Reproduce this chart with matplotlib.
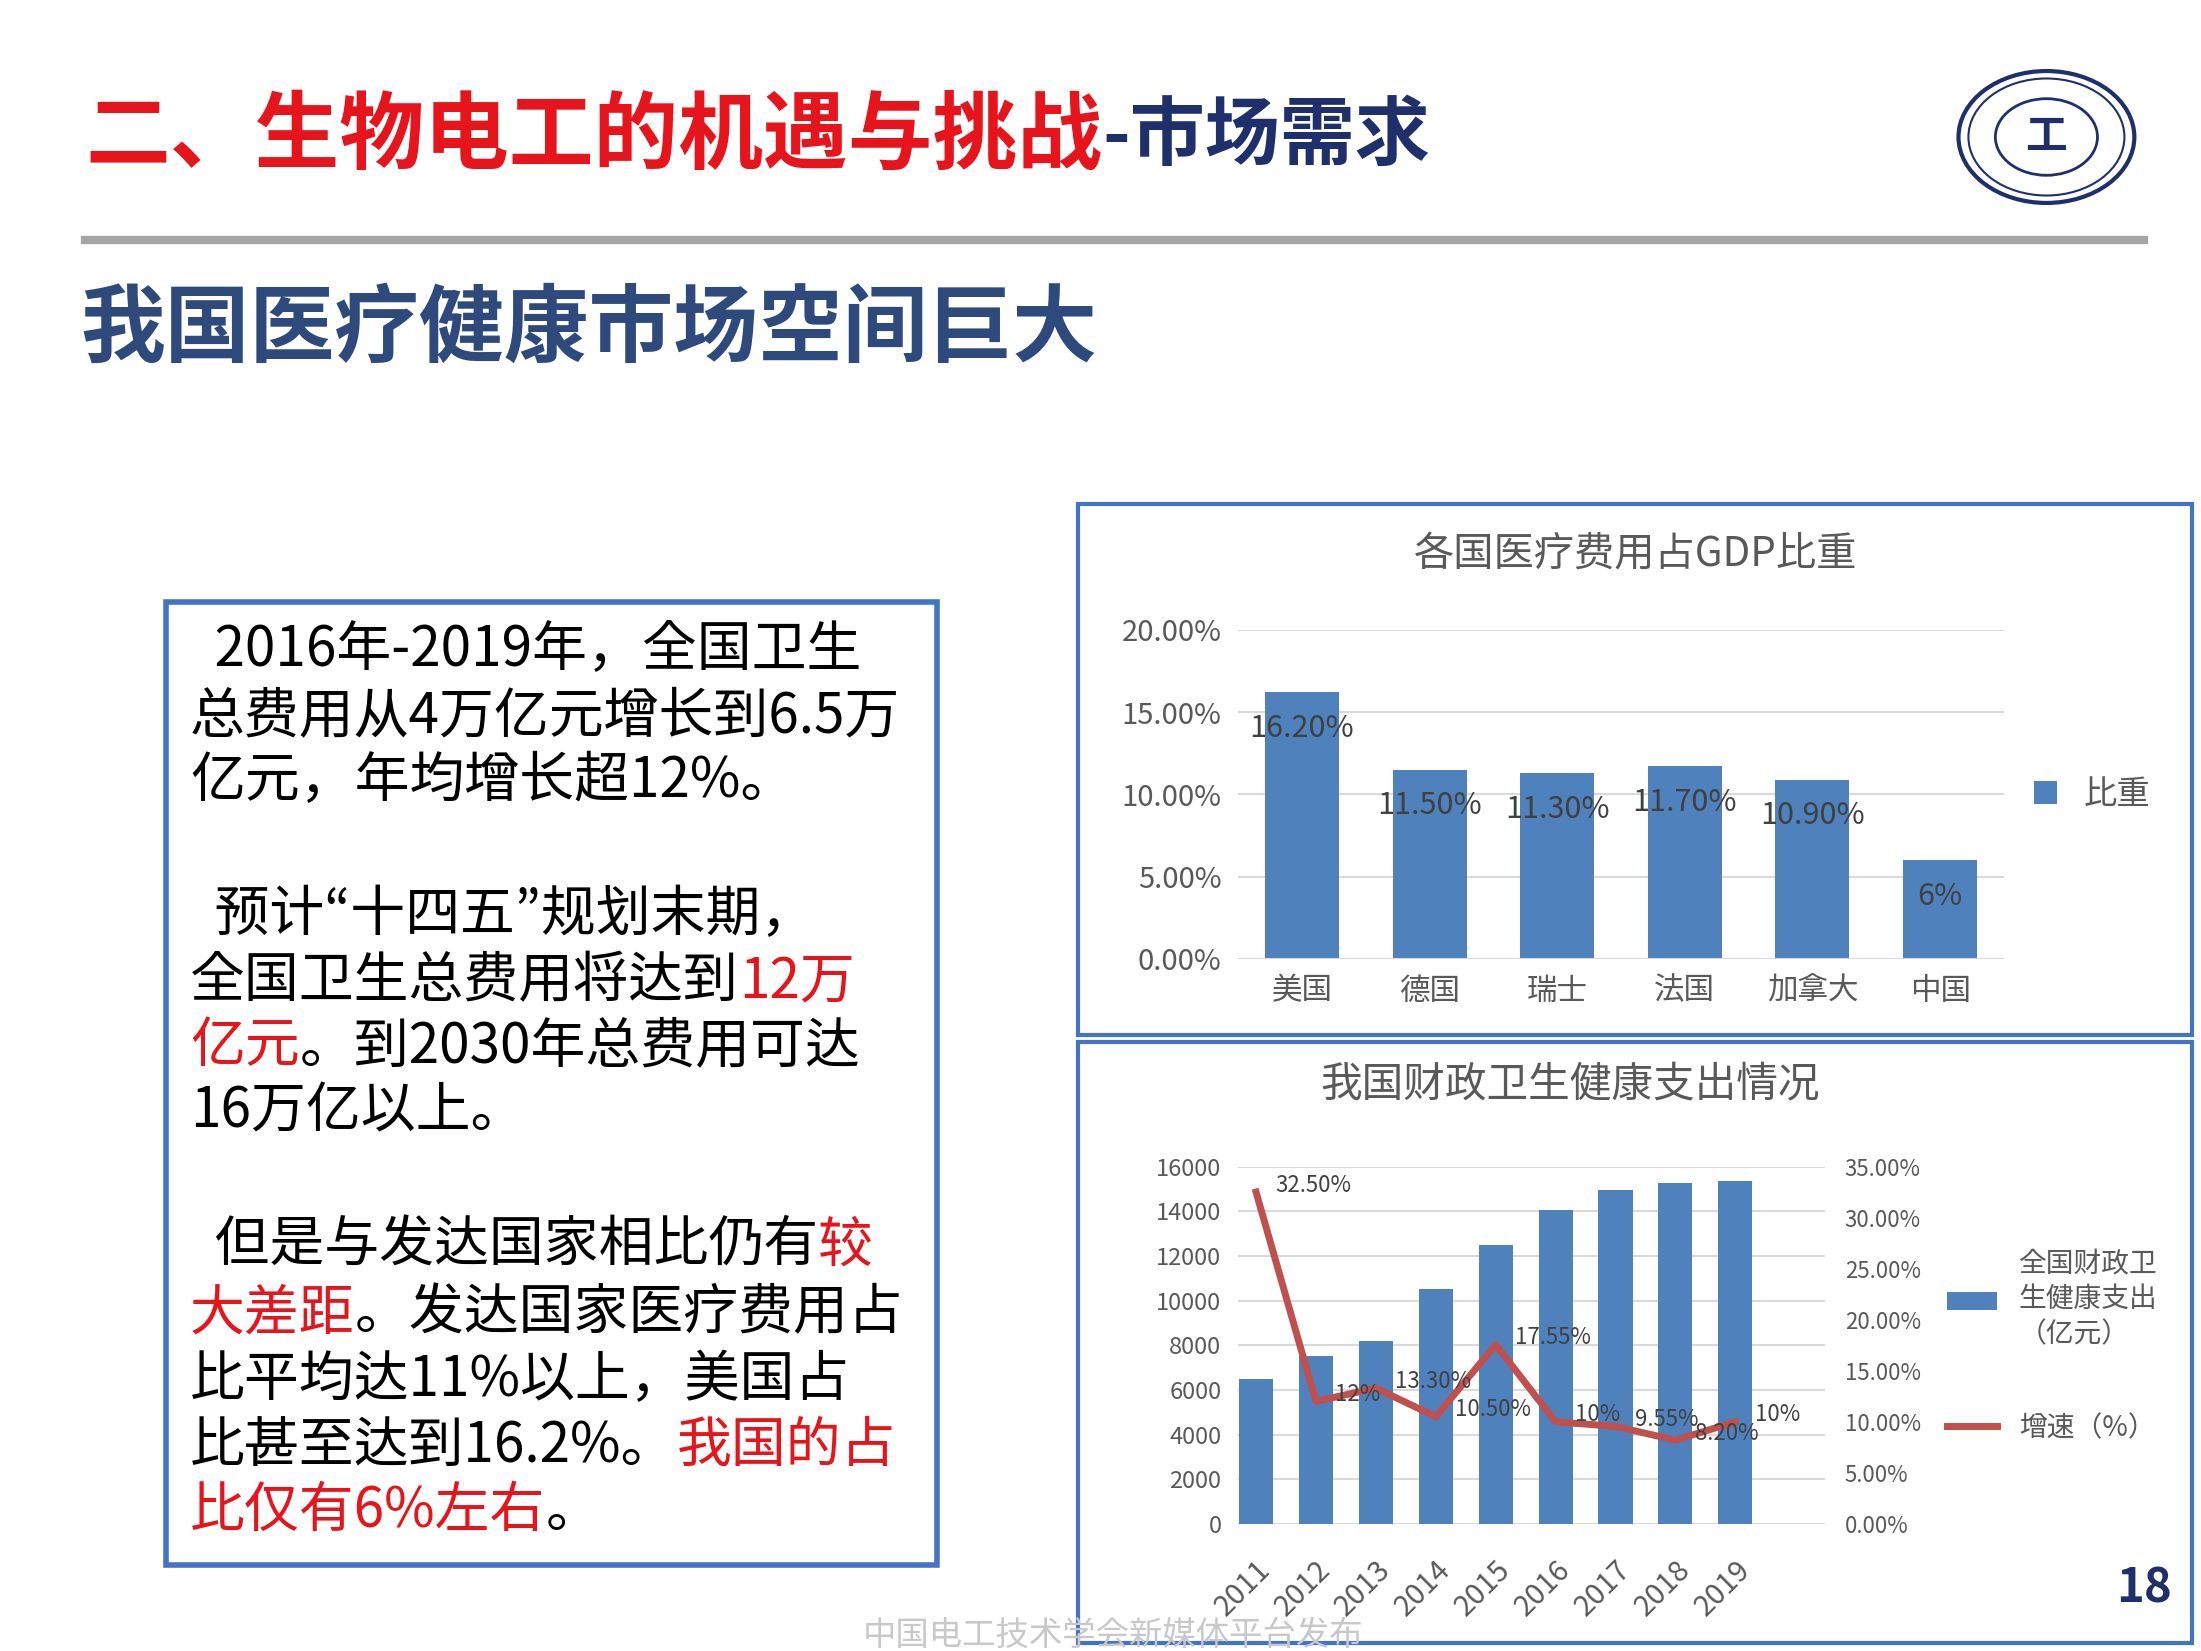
import numpy as np
import matplotlib.pyplot as plt
from matplotlib import font_manager
from matplotlib.patches import Rectangle, Circle
from matplotlib.text import Annotation

cjk = sorted(set(f.name for f in font_manager.fontManager.ttflist if 'CJK' in f.name))
sans = [n for n in cjk if 'Sans' in n]
font_name = 'Noto Sans CJK SC' if 'Noto Sans CJK SC' in sans else (sans[0] if sans else 'DejaVu Sans')
plt.rcParams['font.family'] = [font_name, 'DejaVu Sans']

# 数据
countries = ['美国', '德国', '瑞士', '法国', '加拿大', '中国']
gdp_share = [16.2, 11.5, 11.3, 11.7, 10.9, 6.0]
gdp_labels = ['16.20%', '11.50%', '11.30%', '11.70%', '10.90%', '6%']

years = ['2011', '2012', '2013', '2014', '2015', '2016', '2017', '2018', '2019']
spending = [6500, 7500, 8200, 10500, 12500, 14050, 14950, 15250, 15350]
growth = [32.5, 12.0, 13.3, 10.5, 17.55, 10.0, 9.55, 8.2, 10.0]
growth_labels = ['32.50%', '12%', '13.30%', '10.50%', '17.55%', '10%', '9.55%', '8.20%', '10%']

RED = '#E8141B'
NAVY = '#1F2F6B'
BLUE = '#4F81BD'
LINE = '#C0504D'
W, H = 1552, 1169


def fx(x):
    return x / W


def fy(y):
    return 1 - y / H


def append_text(fig, prev, s, **kw):
    a = Annotation(s, xy=(1, 0.5), xycoords=prev, va='center', ha='left',
                   annotation_clip=False, **kw)
    fig.add_artist(a)
    return a


fig = plt.figure(figsize=(22.01, 16.51), dpi=100)

# 标题
t = fig.text(fx(60), fy(97), '二、生物电工的机遇与挑战', color=RED, fontsize=61,
             fontweight='bold', va='center')
append_text(fig, t, '-市场需求', color=NAVY, fontsize=54, fontweight='bold')

# 校徽
for r, lw in [(62, 3), (55, 1.5), (36, 2)]:
    fig.add_artist(Circle((fx(1443), fy(97)), r / W, transform=fig.transFigure,
                          fill=False, ec=NAVY, lw=lw))
fig.text(fx(1443), fy(97), '工', color=NAVY, fontsize=30, fontweight='bold',
         ha='center', va='center')

fig.add_artist(plt.Line2D([fx(60), fx(1512)], [fy(170), fy(170)], color='#A6A6A6', lw=6))
fig.text(fx(57), fy(233), '我国医疗健康市场空间巨大', color='#2E4A7D', fontsize=61,
         fontweight='bold', va='center')

# 左侧文本框
fig.add_artist(Rectangle((fx(117), fy(1108)), fx(661) - fx(117), fy(426) - fy(1108),
                         transform=fig.transFigure, fill=False, ec='#4472C4', lw=4))
lines = [
    (460, [('  2016年-2019年，全国卫生', 'k')]),
    (507, [('总费用从4万亿元增长到6.5万', 'k')]),
    (553, [('亿元，年均增长超12%。', 'k')]),
    (648, [('  预计“十四五”规划末期，', 'k')]),
    (695, [('全国卫生总费用将达到', 'k'), ('12万', RED)]),
    (741, [('亿元', RED), ('。到2030年总费用可达', 'k')]),
    (787, [('16万亿以上。', 'k')]),
    (882, [('  但是与发达国家相比仍有', 'k'), ('较', RED)]),
    (930, [('大差距', RED), ('。发达国家医疗费用占', 'k')]),
    (977, [('比平均达11%以上，美国占', 'k')]),
    (1024, [('比甚至达到16.2%。', 'k'), ('我国的占', RED)]),
    (1070, [('比仅有6%左右', RED), ('。', 'k')]),
]
for y, runs in lines:
    prev = None
    for s, c in runs:
        if prev is None:
            prev = fig.text(fx(134), fy(y), s, color=c, fontsize=39.5, va='center')
        else:
            prev = append_text(fig, prev, s, color=c, fontsize=39.5)

# 图框
fig.add_artist(Rectangle((fx(760), fy(733)), fx(1546) - fx(760), fy(357) - fy(733),
                         transform=fig.transFigure, fill=False, ec='#4472C4', lw=3))
fig.add_artist(Rectangle((fx(760), fy(1163)), fx(1546) - fx(760), fy(738) - fy(1163),
                         transform=fig.transFigure, fill=False, ec='#4472C4', lw=3))

# 右上图
ax1 = fig.add_axes([fx(873), fy(679), fx(1413) - fx(873), fy(446) - fy(679)])
x1 = np.arange(len(countries))
ax1.bar(x1, gdp_share, width=0.58, color=BLUE, label='比重')
for xi, v, lab in zip(x1, gdp_share, gdp_labels):
    ax1.annotate(lab, (xi, v), xytext=(0, -26), textcoords='offset points',
                 ha='center', va='center', fontsize=22, color='#404040')
ax1.set_ylim(0, 20)
ax1.set_xlim(-0.5, 5.5)
ax1.set_yticks([0, 5, 10, 15, 20])
ax1.set_yticklabels(['0.00%', '5.00%', '10.00%', '15.00%', '20.00%'], fontsize=21, color='#595959')
ax1.set_xticks(x1)
ax1.set_xticklabels(countries, fontsize=22, color='#595959')
ax1.tick_params(length=0, pad=12)
ax1.grid(axis='y', color='#D9D9D9', lw=1.5)
ax1.set_axisbelow(True)
for s in ax1.spines.values():
    s.set_visible(False)
ax1.axhline(0, color='#D9D9D9', lw=1.5)
ax1.legend(loc='center left', bbox_to_anchor=(1.0, 0.5), frameon=False, fontsize=24,
           handlelength=0.7, handleheight=0.7, labelcolor='#595959')
fig.text(fx(1153), fy(392), '各国医疗费用占GDP比重', fontsize=29, color='#595959',
         ha='center', va='center')

# 右下图
ax2 = fig.add_axes([fx(873), fy(1079), fx(1287) - fx(873), fy(826) - fy(1079)])
x2 = np.arange(len(years))
ax2.bar(x2, spending, width=0.57, color=BLUE, label='全国财政卫\n生健康支出\n（亿元）')
ax2.set_ylim(0, 16000)
ax2.set_xlim(-0.3, 9.5)
ax2.set_yticks(np.arange(0, 16001, 2000))
ax2.tick_params(axis='y', labelsize=17, labelcolor='#595959', length=0, pad=12)
ax2.set_xticks(x2)
ax2.set_xticklabels(years, rotation=45, fontsize=21, color='#595959', ha='right',
                    rotation_mode='anchor')
ax2.tick_params(axis='x', length=0, pad=22)
ax2.grid(axis='y', color='#D9D9D9', lw=1.5)
ax2.set_axisbelow(True)
for s in ax2.spines.values():
    s.set_visible(False)
ax3 = ax2.twinx()
ax3.plot(x2, growth, color=LINE, lw=5, label='增速（%）')
for xi, v, lab in zip(x2, growth, growth_labels):
    ax3.annotate(lab, (xi, v), xytext=(14, 5), textcoords='offset points',
                 ha='left', va='center', fontsize=16, color='#404040')
ax3.set_ylim(0, 35)
ax3.set_yticks(np.arange(0, 36, 5))
ax3.set_yticklabels([f'{v:.2f}%' for v in np.arange(0, 36, 5)])
ax3.tick_params(axis='y', labelsize=16, labelcolor='#595959', length=0, pad=14)
for s in ax3.spines.values():
    s.set_visible(False)
h1, l1 = ax2.get_legend_handles_labels()
h2, l2 = ax3.get_legend_handles_labels()
fig.legend(h1, l1, loc='center left', bbox_to_anchor=(fx(1355), fy(920)), frameon=False,
           fontsize=20, handlelength=1.8, handleheight=0.6, labelcolor='#595959')
fig.legend(h2, l2, loc='center left', bbox_to_anchor=(fx(1355), fy(1011)), frameon=False,
           fontsize=20, handlelength=1.8, labelcolor='#595959')
fig.text(fx(1107), fy(769), '我国财政卫生健康支出情况', fontsize=30, color='#595959',
         ha='center', va='center')

fig.text(fx(1512), fy(1125), '18', fontsize=34, color=NAVY, fontweight='bold',
         ha='center', va='center')
fig.text(fx(785), fy(1158), '中国电工技术学会新媒体平台发布', fontsize=24, color='#C8C8C8',
         ha='center', va='center')

fig.savefig('out.png', dpi=100)
